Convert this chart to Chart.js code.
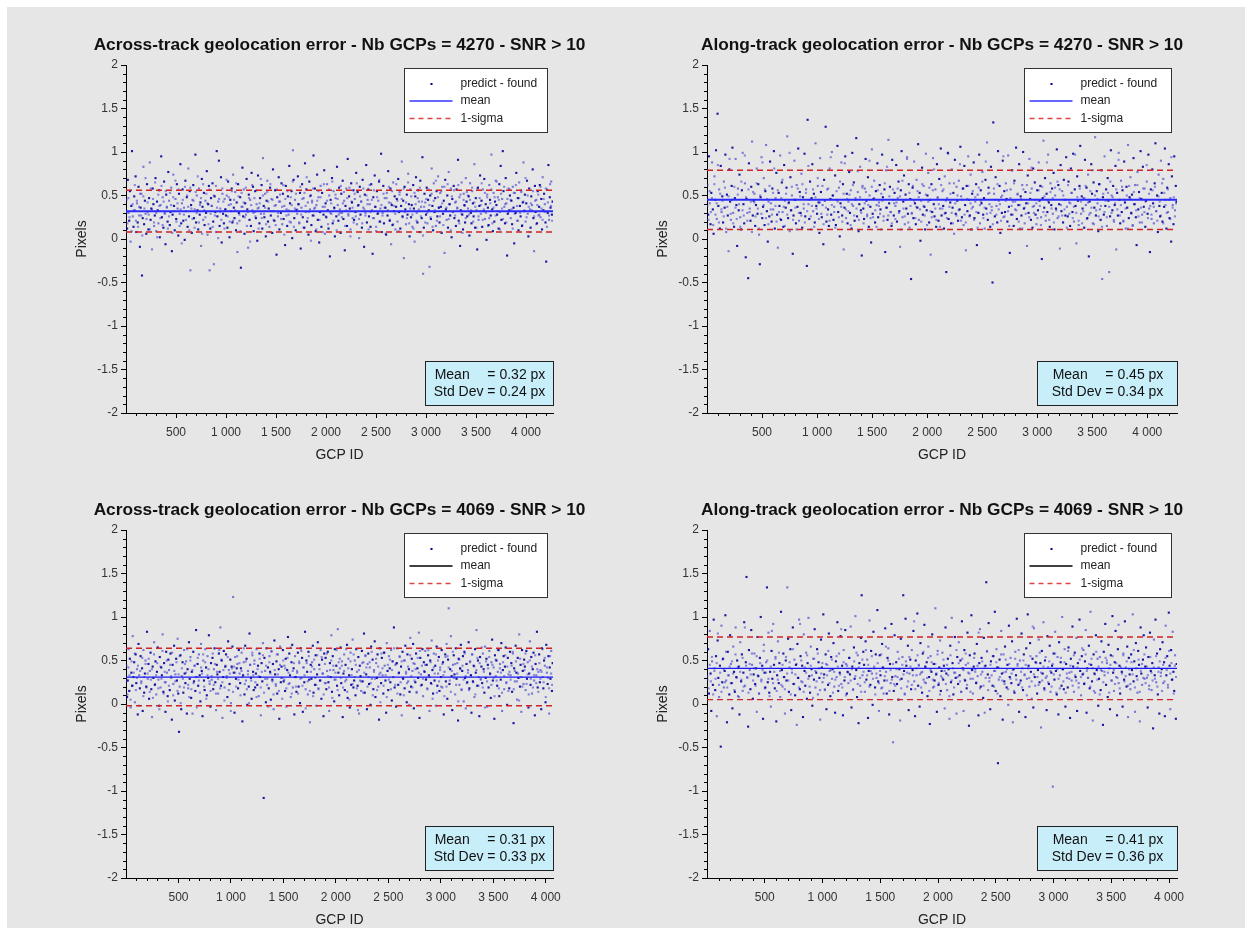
<!DOCTYPE html>
<html>
<head>
<meta charset="utf-8">
<title>GCP geolocation error</title>
<script src="https://cdn.jsdelivr.net/npm/chart.js@4.4.1/dist/chart.umd.min.js"></script>
<style>
  body { margin: 0; background: #fff; }
  #sheet { position: absolute; left: 7px; top: 7px; width: 1238px; height: 921px; background: #e6e6e6; }
  #sheet canvas { position: absolute; }
</style>
</head>
<body>
<div id="sheet"></div>
<script>
// residuals (predict - found), in hundredths of a pixel, one value every few GCPs
const acrossErr4270 = [
  45,12,68,30,21,55,-3,38,101,26,14,49,33,72,8,41,19,60,27,-9,
  36,52,-42,24,83,17,44,29,6,63,31,11,47,88,22,35,-12,58,40,15,
  27,70,9,43,33,18,56,2,39,95,25,48,13,66,30,-6,51,37,20,77,
  44,16,31,59,-14,28,74,38,10,46,23,63,35,4,52,29,86,18,41,57,
  21,36,-1,67,32,48,14,81,26,55,-36,39,7,45,62,24,34,97,19,50,
  33,11,58,28,42,-8,69,37,22,53,16,44,30,78,5,40,61,-36,12,47,
  38,64,20,-29,49,31,8,101,26,43,90,15,35,71,-4,52,29,18,46,34,
  27,50,13,66,39,2,45,32,58,19,74,36,24,54,10,42,-15,63,30,21,
  48,-33,37,82,26,57,6,41,28,69,34,-10,51,22,45,15,76,33,60,9,
  31,55,24,40,-2,73,36,18,47,29,62,12,93,38,25,52,3,44,67,20,
  35,14,59,27,46,7,80,32,21,56,39,-18,48,26,71,11,43,30,64,17,
  52,23,38,-7,61,34,15,49,28,84,41,19,55,1,102,68,24,45,10,33,
  29,72,40,18,53,-11,36,63,25,47,13,87,31,57,20,42,5,66,34,50,
  16,44,27,96,35,58,9,39,74,22,48,-4,31,61,14,53,37,28,79,6,
  41,25,63,33,12,50,-20,45,29,70,18,55,36,3,47,26,83,39,21,59,
  34,7,52,30,67,23,44,-13,38,58,15,92,27,49,35,11,64,42,24,56,
  22,46,31,76,17,54,39,1,60,28,43,13,68,36,-9,51,30,85,19,45,
  57,26,40,14,63,33,-17,48,24,73,37,9,55,29,44,66,20,35,98,8,
  30,61,18,47,36,5,53,27,78,42,21,58,-6,39,16,65,32,49,11,37,
  46,20,69,31,54,12,38,89,26,44,-22,60,34,17,51,28,75,40,3,57,
  25,39,14,62,35,-3,49,71,30,19,56,43,8,67,37,24,94,-40,13,52,
  42,28,59,18,45,33,-32,50,23,81,38,10,64,31,47,15,55,26,72,36,
  19,53,37,7,60,29,44,-16,68,34,22,50,13,77,40,27,58,2,46,31,
  61,24,42,15,57,36,91,21,48,-8,33,65,28,11,52,39,19,70,43,26,
  35,49,4,64,30,18,55,41,26,86,13,47,33,-12,59,22,38,73,29,44,
  14,57,32,69,23,40,-1,51,36,16,62,45,27,97,34,9,53,20,43,67,
  39,28,48,12,63,31,84,22,46,101,55,37,18,70,41,-19,29,58,33,50,
  24,44,17,60,36,-5,53,30,76,21,47,10,65,38,26,54,15,42,88,32,
  51,20,41,67,29,3,58,34,13,49,39,80,24,-14,61,31,45,18,55,27,
  37,62,25,46,11,71,33,52,40,19,-26,57,30,85,22,48,36,66,28,43
];
const alongErr4270 = [
  62,28,95,41,17,53,88,34,6,72,45,102,23,144,38,57,12,84,31,49,
  19,66,36,97,8,51,27,-14,80,43,22,61,105,30,14,47,92,39,-8,58,
  33,74,25,11,56,99,40,18,64,-21,46,30,-45,87,35,21,60,112,27,44,
  52,15,39,81,29,63,5,-29,48,94,24,37,70,16,55,108,32,-3,43,26,
  89,41,20,58,34,101,12,47,76,28,-10,53,38,96,22,65,31,14,85,44,
  36,59,118,24,42,9,71,33,50,-17,27,90,45,18,62,37,104,21,54,30,
  75,13,48,35,98,26,57,-31,137,40,23,66,11,47,86,32,52,19,110,38,
  29,61,42,7,93,54,25,39,-6,68,44,129,20,57,34,15,81,46,28,100,
  50,22,37,73,16,45,107,31,59,3,41,88,27,63,-12,36,95,24,52,18,
  43,77,30,56,12,99,38,65,21,47,116,26,54,9,40,83,33,-19,61,35,
  23,58,92,44,28,71,14,50,37,-4,103,29,46,67,19,55,39,87,25,42,
  62,34,11,97,48,26,57,-15,79,36,22,114,41,60,31,15,91,45,27,53,
  38,85,20,47,66,32,-9,56,101,25,43,73,17,51,35,94,29,63,13,46,
  -46,30,59,24,89,41,17,68,36,109,22,53,-2,44,82,28,61,37,11,98,
  33,50,76,19,45,-18,63,31,93,40,26,57,14,86,48,21,69,35,104,27,
  55,38,12,72,30,-38,47,99,23,64,42,18,80,36,53,6,91,29,60,44,
  21,67,34,106,49,25,58,16,84,39,-13,61,32,95,45,27,74,11,52,37,
  88,24,43,63,-7,51,30,97,18,56,41,77,28,47,12,68,35,111,22,59,
  40,14,83,33,-50,134,52,26,71,38,19,101,44,61,7,48,30,90,25,55,
  31,64,46,20,96,37,-16,57,28,79,43,15,67,34,105,23,52,39,86,12,
  49,27,62,100,35,18,54,41,-8,73,30,92,46,22,58,13,81,38,65,28,
  17,56,33,88,44,61,25,-23,47,113,36,70,21,52,31,97,42,14,64,39,
  58,29,76,11,50,35,103,24,62,40,-11,85,32,55,19,68,45,27,94,37,
  26,66,42,15,81,53,31,98,20,57,38,-5,72,44,16,61,107,29,49,35,
  47,13,91,39,59,24,74,-20,43,30,86,52,18,65,36,117,27,55,41,9,
  63,34,22,79,-46,48,28,95,38,57,15,70,44,-38,26,102,50,33,61,20,
  39,84,-12,53,27,99,45,18,67,31,56,21,89,42,12,60,36,108,24,48,
  71,30,51,16,93,40,62,25,-7,77,34,54,19,101,46,28,83,37,58,14,
  44,66,29,97,35,-15,57,23,80,41,18,64,110,32,50,8,74,38,26,90,
  53,20,69,37,104,45,12,59,31,86,24,47,-3,72,39,17,95,33,61,43
];
const acrossErr4069 = [
  44,8,27,63,15,52,-4,36,21,78,31,48,2,57,24,40,-12,69,33,18,
  55,26,41,-8,62,13,35,50,20,83,29,46,6,38,59,17,-15,43,30,71,
  22,49,11,37,65,28,-2,54,19,42,33,80,14,47,25,-9,60,36,9,51,
  39,16,58,30,-18,45,23,67,4,34,52,27,75,12,-32,20,56,-6,32,48,
  13,62,35,24,49,-11,40,18,71,29,54,7,37,-11,60,26,44,15,85,31,
  46,21,57,33,3,69,38,-14,50,27,16,63,42,10,55,30,79,23,-3,47,
  28,53,17,40,64,25,-7,45,34,12,58,37,88,21,50,-16,31,61,19,43,
  57,32,8,72,39,23,51,1,43,66,123,36,-10,54,29,41,46,18,62,35,
  24,41,59,-20,33,48,11,67,27,52,-1,38,20,81,45,30,6,56,37,16,
  50,19,35,63,22,44,9,58,31,-13,47,26,70,-108,53,38,2,64,29,42,
  18,55,37,5,61,28,46,-6,73,34,21,49,12,57,40,-17,66,25,43,30,
  62,26,44,15,52,-3,39,77,23,58,33,8,48,68,19,41,-12,55,31,14,
  36,59,20,47,1,64,30,53,-9,42,25,83,17,50,37,11,60,28,-21,45,
  29,48,67,13,40,22,56,-2,34,71,18,45,27,62,6,51,35,-14,58,24,
  53,17,38,60,25,-8,47,31,79,14,55,39,3,63,28,44,21,86,36,10,
  41,65,24,49,-15,35,57,16,45,28,68,7,52,33,-4,59,22,40,74,19,
  27,50,10,63,37,21,54,-11,44,32,15,61,26,48,81,13,56,34,-6,46,
  58,23,42,-1,66,29,51,17,39,72,8,47,30,57,20,-18,64,36,24,53,
  33,12,59,44,27,-10,70,38,16,55,41,25,62,4,49,31,88,19,45,-3,
  47,64,22,36,54,11,43,-13,60,29,50,18,67,35,2,57,26,40,14,76,
  20,52,38,69,-5,46,25,58,13,41,30,82,-16,53,34,22,63,9,48,37,
  61,28,45,17,56,33,-8,50,24,73,39,12,58,27,44,-2,66,21,35,54,
  15,42,31,62,19,48,-12,37,57,26,69,6,51,110,23,40,78,32,-7,45,
  56,34,11,64,29,47,-19,52,22,41,68,16,38,55,3,60,30,-5,46,25,
  39,71,18,49,33,-10,57,26,44,8,63,36,85,21,50,31,-14,54,28,43,
  24,58,40,13,66,30,52,-3,45,19,61,35,7,48,74,27,42,-17,56,32,
  50,21,37,62,9,46,28,70,-8,39,55,17,43,65,25,-1,53,34,18,60,
  33,47,14,58,-22,41,26,67,36,5,53,30,80,20,45,-9,62,38,23,51,
  43,16,61,29,48,-4,35,72,22,54,12,40,59,27,-13,46,33,83,19,37,
  57,25,39,-6,64,31,18,50,44,2,68,36,23,55,-11,42,29,61,15,47
];
const alongErr4069 = [
  28,63,12,84,35,-8,49,22,97,41,16,55,-14,73,30,8,44,-49,90,25,
  52,19,38,102,27,-21,60,33,11,79,46,24,-5,66,37,14,88,31,50,9,
  43,-12,71,26,57,15,36,94,21,48,146,30,-26,62,39,17,85,45,6,34,
  58,23,41,-9,77,32,12,53,100,28,44,-17,68,36,19,48,134,25,82,13,
  37,-3,61,29,92,45,18,54,-20,33,72,24,47,8,106,39,20,58,31,-11,
  50,27,134,75,14,42,63,-7,36,88,23,51,10,45,-24,69,30,97,17,55,
  26,44,-15,80,38,21,59,6,47,99,32,13,66,40,-2,52,28,86,19,36,
  63,11,48,30,-18,74,42,25,103,34,16,57,-6,45,22,81,38,9,54,29,
  40,70,20,-10,49,31,94,15,58,36,78,23,44,-13,62,27,85,46,12,37,
  24,53,34,89,-4,43,17,65,29,101,39,8,56,-22,47,21,76,125,33,60,
  45,14,72,28,51,-16,38,96,22,61,35,-1,83,41,19,57,30,108,26,-8,
  56,33,18,69,42,12,27,87,37,12,53,64,-12,46,24,92,31,-44,15,79,
  32,48,23,60,5,40,-19,75,29,54,125,38,11,98,44,20,67,-7,35,51,
  17,62,39,84,26,-14,50,33,104,21,45,-3,70,36,13,58,28,91,43,24,
  48,9,66,31,-23,55,37,80,19,46,27,110,34,-9,61,22,42,73,15,38,
  59,28,44,-5,88,35,16,52,40,-17,67,25,99,47,11,36,77,30,-11,54,
  23,71,33,50,14,95,41,-8,62,27,45,18,82,36,-25,56,29,102,39,12,
  43,58,40,24,69,32,-13,47,86,20,53,37,7,76,-10,44,140,61,34,93,
  30,-6,49,77,21,55,38,106,15,63,42,-68,28,51,9,84,35,-18,57,26,
  66,37,19,45,-1,90,31,53,24,72,-21,40,13,60,33,98,46,22,-9,50,
  27,81,41,16,57,34,-15,64,29,103,44,20,70,37,6,52,-4,87,31,48,
  55,12,39,74,25,47,-27,61,35,94,18,50,30,-7,78,42,23,67,14,36,
  44,-95,58,28,83,38,11,54,-12,71,33,48,21,100,40,17,63,-3,46,30,
  19,65,36,-16,52,27,89,43,14,59,31,76,-8,47,24,97,38,10,55,34,
  62,23,49,85,-10,41,30,67,18,106,45,26,-19,57,35,13,79,39,52,-2,
  29,54,16,72,38,-24,60,33,92,22,47,8,68,41,-6,56,27,101,36,15,
  48,84,31,-13,63,24,44,12,76,37,-3,58,28,95,42,20,66,-15,53,34,
  17,57,39,103,26,49,-9,70,32,13,61,45,-20,88,35,22,51,79,29,43,
  65,30,-4,54,21,82,38,16,47,-28,74,33,97,25,58,11,42,-11,63,36,
  40,71,24,48,-14,90,33,55,19,105,44,-6,62,28,83,37,15,56,-17,46
];

// second sample of GCPs, taken between the ones above (hundredths of a pixel)
const acrossErr4270b = [
  31,18,47,25,56,9,40,33,62,21,44,14,37,52,27,4,49,35,70,23,
  42,28,11,58,34,46,19,65,30,2,51,38,24,61,16,43,29,55,36,12,
  26,53,39,7,48,32,67,20,41,57,15,34,-5,45,28,60,22,50,37,10,
  59,35,23,44,13,54,30,72,19,39,47,6,63,33,25,52,41,17,57,29,
  38,14,50,27,61,36,1,46,31,22,58,43,12,34,68,26,48,20,40,55,
  21,45,33,64,18,49,28,9,53,37,42,25,59,15,31,47,-3,39,62,30,
  47,26,56,35,12,41,69,24,50,29,36,17,54,43,8,63,32,45,22,38,
  16,57,30,43,51,23,37,62,5,46,27,55,33,20,48,39,66,14,35,52,
  34,40,19,60,28,46,13,53,38,71,24,31,49,-2,42,58,27,36,11,44,
  55,22,48,32,8,63,37,26,44,17,57,30,41,66,21,35,51,10,46,28,
  30,61,25,41,54,15,33,47,29,59,3,43,36,19,52,26,64,38,23,49,
  43,18,58,34,27,50,40,11,62,31,45,24,56,37,14,48,30,68,20,39,
  27,52,36,6,47,33,60,22,41,55,17,38,29,63,44,9,51,32,46,25,
  58,31,42,24,65,18,35,49,28,12,53,40,21,47,34,59,26,43,4,37,
  19,46,30,57,39,25,52,14,44,33,67,21,48,36,26,55,41,16,60,32,
  36,63,23,40,10,49,31,56,27,43,35,62,18,51,29,7,45,38,24,54,
  50,28,45,33,59,20,42,37,13,58,26,47,39,64,22,34,53,30,48,15,
  24,41,57,18,36,48,27,66,32,45,11,52,35,23,60,40,19,46,31,57,
  45,34,12,53,29,62,38,21,47,30,56,16,43,33,70,25,50,37,8,41,
  33,55,26,44,17,39,51,28,60,35,22,46,31,58,14,42,27,63,38,21
];
const alongErr4270b = [
  38,22,55,31,47,16,63,28,41,85,19,52,34,44,26,59,12,37,49,92,
  29,45,18,60,36,23,51,40,14,66,33,27,96,48,21,57,31,43,8,54,
  42,26,64,35,12,50,29,88,39,57,24,46,17,61,34,28,53,81,38,20,
  56,31,23,47,68,37,15,52,28,41,99,33,60,22,45,36,11,58,30,49,
  27,63,40,19,53,32,84,45,26,38,57,14,48,35,70,23,42,29,61,17,
  44,36,28,58,21,94,39,50,31,13,55,43,25,66,37,20,52,87,34,46,
  32,51,16,40,62,27,45,35,78,22,48,30,59,18,41,54,26,39,90,24,
  60,25,47,33,14,56,38,29,52,44,21,64,36,83,27,49,31,18,57,41,
  23,42,58,30,49,11,67,35,26,45,92,19,53,38,29,61,44,24,37,55,
  48,34,20,63,38,27,51,16,43,59,32,25,56,80,35,22,47,40,14,62,
  35,57,29,44,24,98,37,52,30,18,64,41,27,50,33,86,21,45,58,28,
  19,46,61,26,41,35,55,22,48,31,13,59,39,43,66,24,36,89,29,52,
  53,30,37,17,58,45,28,63,34,40,21,50,95,26,44,56,32,15,47,38,
  28,64,43,33,51,20,39,46,12,57,36,29,62,41,25,53,82,37,30,45,
  41,24,56,38,16,60,31,49,27,88,44,22,54,35,47,19,59,33,66,26,
  57,39,27,50,34,45,13,62,29,41,53,24,37,97,30,48,21,58,43,18,
  32,47,61,23,42,28,55,36,79,17,50,33,46,26,63,38,14,52,31,44,
  25,53,37,66,30,48,22,41,57,34,91,27,39,60,20,45,35,50,12,61,
  46,29,15,54,40,33,62,26,47,36,19,58,31,43,85,24,52,38,28,56,
  37,60,32,21,49,43,27,64,18,53,39,30,57,45,23,94,36,48,26,41
];
const acrossErr4069b = [
  27,11,42,33,5,49,21,36,58,16,30,44,-2,38,24,53,9,31,46,19,
  35,52,14,28,40,7,57,23,33,47,18,-6,43,29,61,12,37,25,50,3,
  21,45,32,59,10,38,26,48,15,34,55,1,41,29,19,46,36,63,22,8,
  50,17,39,24,44,31,-4,53,27,13,42,35,57,20,48,6,33,40,26,15,
  32,58,22,46,12,37,29,62,18,51,25,39,4,44,30,54,16,35,-8,41,
  14,43,36,20,55,28,47,10,38,31,64,23,49,17,34,1,45,27,59,33,
  46,25,8,40,32,52,19,37,56,13,29,44,22,-3,48,35,60,26,11,39,
  23,57,34,15,45,30,6,50,28,41,18,53,36,24,65,12,38,47,31,20,
  38,12,49,29,61,21,42,33,-5,47,26,55,15,37,43,9,51,30,22,56,
  17,40,27,54,35,11,46,24,58,32,19,39,50,7,44,28,36,62,16,48,
  52,30,44,19,38,26,63,14,41,5,49,33,23,57,31,45,18,-7,39,27,
  26,47,13,36,55,42,20,31,48,24,60,10,37,29,52,16,43,34,2,58,
  41,21,59,33,8,45,28,51,17,39,31,64,22,46,12,35,55,25,49,30,
  10,50,37,24,43,-1,56,32,19,47,27,40,14,53,36,61,21,44,29,38,
  45,29,18,62,31,48,23,6,42,35,57,13,50,26,39,20,46,33,9,54,
  20,55,42,27,14,38,60,30,46,22,35,3,51,40,17,44,28,58,32,24,
  36,16,48,33,57,25,43,11,39,53,21,47,29,65,19,37,-4,49,26,41,
  54,34,22,45,30,9,51,27,62,18,41,36,13,48,32,56,24,43,15,37,
  28,44,60,17,38,49,26,35,4,52,31,20,46,39,58,23,34,11,50,29,
  43,19,33,56,24,40,14,47,29,37,63,25,53,8,42,30,18,55,35,22
];
const alongErr4069b = [
  32,18,45,26,54,11,38,29,47,81,22,36,14,51,40,25,60,19,33,43,
  24,49,35,16,57,30,42,8,37,28,53,20,88,44,31,13,46,34,58,27,
  41,21,55,33,12,47,26,39,61,18,36,50,29,9,43,84,24,37,52,15,
  28,59,38,22,45,31,17,54,35,27,48,11,40,63,23,34,46,30,19,92,
  50,25,14,42,36,56,29,20,44,33,7,52,38,26,58,41,16,35,47,30,
  17,46,33,61,24,39,51,13,37,28,55,43,21,34,86,19,48,31,10,44,
  36,53,27,40,16,49,32,59,23,42,30,14,51,37,25,62,33,45,20,38,
  55,29,43,11,35,47,24,38,57,19,41,32,66,27,50,15,39,28,46,23,
  21,40,31,52,28,18,45,34,12,49,36,26,54,43,22,33,95,17,41,56,
  44,34,19,37,60,25,42,30,53,15,39,48,28,20,46,35,57,24,11,32,
  30,51,38,23,45,33,9,56,27,41,19,36,62,31,47,26,14,52,39,28,
  58,22,47,35,14,40,29,53,37,25,44,82,18,34,49,21,43,30,60,16,
  26,45,33,55,20,38,48,12,42,31,57,27,36,23,51,40,17,46,29,35,
  39,15,52,28,44,62,24,37,19,50,33,45,10,41,30,55,26,89,34,21,
  47,31,22,59,36,27,43,16,54,32,25,49,38,20,46,34,58,13,40,29,
  18,53,40,26,48,13,35,61,29,44,37,21,56,33,27,42,19,51,31,64,
  35,24,57,38,30,46,20,52,41,15,34,60,28,43,11,39,48,25,37,53,
  50,36,13,45,27,55,39,23,47,30,91,18,42,35,56,26,32,49,21,40,
  23,48,34,62,19,41,28,51,14,38,46,30,57,24,43,33,17,54,36,27,
  42,29,55,20,37,49,32,15,45,26,53,39,22,61,35,47,28,12,44,31
];

const gcpCounts = [4270, 4270, 4069, 4069];
const meanValues = [0.32, 0.45, 0.31, 0.41];
const stdValues = [0.24, 0.34, 0.33, 0.36];
const titles = [
  'Across-track geolocation error - Nb GCPs = 4270 - SNR > 10',
  'Along-track geolocation error - Nb GCPs = 4270 - SNR > 10',
  'Across-track geolocation error - Nb GCPs = 4069 - SNR > 10',
  'Along-track geolocation error - Nb GCPs = 4069 - SNR > 10'
];
const xTickValues = [500, 1000, 1500, 2000, 2500, 3000, 3500, 4000];
const yTickValues = [-2, -1.5, -1, -0.5, 0, 0.5, 1, 1.5, 2];
const legendLabels = ['predict - found', 'mean', '1-sigma'];

const FONT = '"Liberation Sans", Arial, Helvetica, sans-serif';
Chart.defaults.font.family = FONT;

// canvas placement and chart area for each panel (inside #sheet)
const panels = [
  { series: acrossErr4270, extra: acrossErr4270b, left: 0,   top: 0,   w: 620, h: 462, area: { l: 119, t: 58, r: 546, b: 406 }, legendW: 143, statsW: 128, meanColor: '#2b2bff', meanWidth: 2, legendMean: '#3535ff' },
  { series: alongErr4270,  extra: alongErr4270b,  left: 620, top: 0,   w: 618, h: 462, area: { l: 80,  t: 58, r: 550, b: 406 }, legendW: 147, statsW: 140, meanColor: '#2b2bff', meanWidth: 2, legendMean: '#3535ff' },
  { series: acrossErr4069, extra: acrossErr4069b, left: 0,   top: 462, w: 620, h: 459, area: { l: 119, t: 61, r: 546, b: 409 }, legendW: 143, statsW: 128, meanColor: '#1a1af5', meanWidth: 1.2, legendMean: '#000' },
  { series: alongErr4069,  extra: alongErr4069b,  left: 620, top: 462, w: 618, h: 459, area: { l: 80,  t: 61, r: 550, b: 409 }, legendW: 147, statsW: 140, meanColor: '#1a1af5', meanWidth: 1.2, legendMean: '#000' }
];

function thousands(v) {
  return String(v).replace(/\B(?=(\d{3})+(?!\d))/g, ' ');
}

function sampled(vals, n, offset) {
  const step = n / vals.length;
  return vals.map((v, i) => ({ x: Math.round((i + offset) * step), y: v / 100 }));
}

// minor ticks, titles, legend box and statistics box
const panelDecor = {
  id: 'panelDecor',
  afterDraw(chart, args, o) {
    const ctx = chart.ctx;
    const a = chart.chartArea;
    const xs = chart.scales.x, ys = chart.scales.y;
    ctx.save();

    ctx.strokeStyle = '#000';
    ctx.lineWidth = 1;
    ctx.beginPath();
    for (let k = -20; k <= 20; k++) {
      if (k % 5 === 0) continue;
      const py = Math.round(ys.getPixelForValue(k / 10)) + 0.5;
      ctx.moveTo(a.left - 3, py);
      ctx.lineTo(a.left, py);
    }
    for (let g = 100; g <= o.count; g += 100) {
      if (g % 500 === 0) continue;
      const px = Math.round(xs.getPixelForValue(g)) + 0.5;
      ctx.moveTo(px, a.bottom);
      ctx.lineTo(px, a.bottom + 3);
    }
    ctx.stroke();

    // title and axis names
    ctx.fillStyle = '#111';
    ctx.textAlign = 'center';
    ctx.textBaseline = 'alphabetic';
    ctx.font = 'bold 17.3px ' + FONT;
    ctx.fillText(o.title, (a.left + a.right) / 2, a.top - 15);
    ctx.font = '14px ' + FONT;
    ctx.fillStyle = '#222';
    ctx.textBaseline = 'middle';
    ctx.fillText('GCP ID', (a.left + a.right) / 2, a.bottom + 42);
    ctx.save();
    ctx.translate(a.left - 44, (a.top + a.bottom) / 2);
    ctx.rotate(-Math.PI / 2);
    ctx.fillText('Pixels', 0, 0);
    ctx.restore();

    // legend
    const lw = o.legendW, lh = 64;
    const lx = Math.round(a.right - 6 - lw) + 0.5, ly = Math.round(a.top + 3) + 0.5;
    ctx.fillStyle = '#fff';
    ctx.fillRect(lx, ly, lw, lh);
    ctx.strokeStyle = '#333';
    ctx.strokeRect(lx, ly, lw, lh);
    const rows = [ly + 15.5, ly + 32.5, ly + 50];
    ctx.fillStyle = '#00008c';
    ctx.fillRect(lx + 26, rows[0] - 1, 2, 2);
    ctx.beginPath();
    ctx.strokeStyle = o.legendMean;
    ctx.lineWidth = 1.5;
    ctx.moveTo(lx + 5, rows[1]);
    ctx.lineTo(lx + 48, rows[1]);
    ctx.stroke();
    ctx.beginPath();
    ctx.strokeStyle = '#dd4444';
    ctx.setLineDash([5, 4]);
    ctx.moveTo(lx + 5, rows[2]);
    ctx.lineTo(lx + 48, rows[2]);
    ctx.stroke();
    ctx.setLineDash([]);
    ctx.fillStyle = '#222';
    ctx.textAlign = 'left';
    ctx.font = '12px ' + FONT;
    legendLabels.forEach((t, i) => ctx.fillText(t, lx + 56, rows[i]));

    // statistics box, text block centred in it
    const sw = o.statsW, sh = 44;
    const sx = Math.round(a.right - sw) + 0.5, sy = Math.round(a.bottom - 8 - sh) + 0.5;
    ctx.fillStyle = '#c8eef9';
    ctx.fillRect(sx, sy, sw, sh);
    ctx.lineWidth = 1;
    ctx.strokeStyle = '#222';
    ctx.strokeRect(sx, sy, sw, sh);
    ctx.fillStyle = '#111';
    ctx.font = '14px ' + FONT;
    const stdText = 'Std Dev = ' + o.std.toFixed(2) + ' px';
    const tw = ctx.measureText(stdText).width;
    const tx = sx + (sw - tw) / 2;
    ctx.textAlign = 'left';
    ctx.fillText('Mean', tx + 1, sy + 13.5);
    ctx.fillText(stdText, tx, sy + 30.5);
    ctx.textAlign = 'right';
    ctx.fillText('= ' + o.mean.toFixed(2) + ' px', tx + tw, sy + 13.5);

    ctx.restore();
  }
};

const sheet = document.getElementById('sheet');

panels.forEach((p, idx) => {
  const canvas = document.createElement('canvas');
  canvas.width = p.w;
  canvas.height = p.h;
  canvas.style.left = p.left + 'px';
  canvas.style.top = p.top + 'px';
  sheet.appendChild(canvas);

  const n = gcpCounts[idx];
  const mean = meanValues[idx];
  const std = stdValues[idx];
  const flat = (y) => [{ x: 0, y: y }, { x: n, y: y }];

  new Chart(canvas, {
    type: 'scatter',
    data: {
      datasets: [
        { data: flat(mean), showLine: true, pointRadius: 0, borderColor: p.meanColor, borderWidth: p.meanWidth },
        { data: flat(mean + std), showLine: true, pointRadius: 0, borderColor: '#cc2525', borderWidth: 1.4, borderDash: [6, 4] },
        { data: flat(mean - std), showLine: true, pointRadius: 0, borderColor: '#cc2525', borderWidth: 1.4, borderDash: [6, 4] },
        {
          data: sampled(p.series, n, 0.5),
          pointStyle: 'rect',
          pointRadius: 1.5,
          pointBorderWidth: 0,
          pointBackgroundColor: (c) => (c.dataIndex % 3 === 0 ? 'rgba(60,60,205,0.65)' : 'rgba(0,0,155,0.9)')
        },
        {
          data: sampled(p.extra, n, 0.25),
          pointStyle: 'rect',
          pointRadius: 1.5,
          pointBorderWidth: 0,
          pointBackgroundColor: 'rgba(70,70,210,0.6)'
        }
      ]
    },
    options: {
      responsive: false,
      animation: false,
      devicePixelRatio: 1,
      events: [],
      layout: { padding: { left: p.area.l - 40, top: p.area.t, right: p.w - p.area.r, bottom: p.h - p.area.b - 30 } },
      plugins: {
        legend: { display: false },
        tooltip: { enabled: false },
        panelDecor: { title: titles[idx], count: n, mean: mean, std: std, legendW: p.legendW, statsW: p.statsW, legendMean: p.legendMean }
      },
      scales: {
        x: {
          type: 'linear',
          min: 0,
          max: n,
          afterFit: (s) => { s.height = 30; },
          afterBuildTicks: (s) => { s.ticks = xTickValues.map((v) => ({ value: v })); },
          border: { color: '#000' },
          grid: { drawOnChartArea: false, tickLength: 5, tickColor: '#000' },
          ticks: {
            autoSkip: false,
            maxRotation: 0,
            padding: 7,
            color: '#333',
            font: { size: 12 },
            callback: (v) => thousands(v)
          }
        },
        y: {
          min: yTickValues[0],
          max: yTickValues[yTickValues.length - 1],
          afterFit: (s) => { s.width = 40; },
          afterBuildTicks: (s) => { s.ticks = yTickValues.map((v) => ({ value: v })); },
          border: { color: '#000' },
          grid: { drawOnChartArea: false, tickLength: 5, tickColor: '#000' },
          ticks: {
            autoSkip: false,
            padding: 3,
            color: '#333',
            font: { size: 12 },
            callback: (v) => String(v)
          }
        }
      }
    },
    plugins: [panelDecor]
  });
});
</script>
</body>
</html>
